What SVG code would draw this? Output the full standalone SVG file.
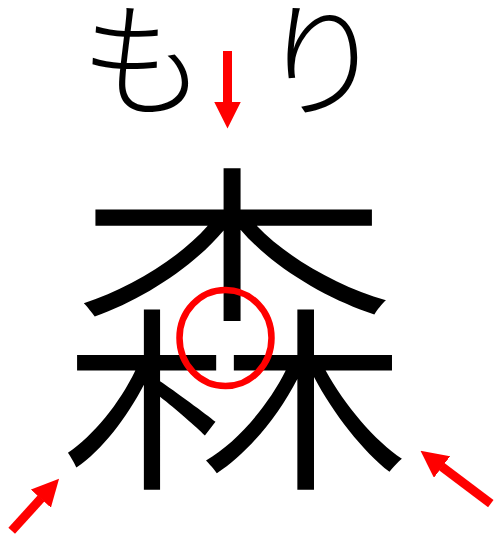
<svg xmlns="http://www.w3.org/2000/svg" width="495" height="539" viewBox="0 0 495 539">
  <style>
    .jp { font-family: "Noto Sans CJK JP", "Noto Sans CJK SC", sans-serif; fill: #000; font-weight: 300; }
    .arrow { stroke: #FF0000; stroke-width: 9; fill: none; }
    .mark { fill: none; stroke: #FF0000; stroke-width: 6.5; }
  </style>
  <defs>
    <marker id="head" markerUnits="strokeWidth" markerWidth="3" markerHeight="3" viewBox="0 0 3 3" refX="0.05" refY="1.5" orient="auto">
      <path d="M0,0 L3,1.5 L0,3 z" fill="#FF0000"/>
    </marker>
  </defs>
  <rect width="495" height="539" fill="#FFFFFF"/>
  <g id="reading">
    <text class="jp" font-size="126" text-anchor="middle"><tspan x="143" y="107">も</tspan><tspan x="322" y="107">り</tspan></text>
  </g>
  <g id="kanji">
    <text class="jp" x="233.5" y="463" font-size="353" text-anchor="middle">森</text>
  </g>
  <g id="highlight">
    <ellipse class="mark" cx="225.5" cy="338" rx="46" ry="48"/>
  </g>
  <g id="arrows">
    <line class="arrow" x1="227.5" y1="51" x2="227.5" y2="102" marker-end="url(#head)"/>
    <line class="arrow" x1="11.7" y1="530.8" x2="41.2" y2="498.3" marker-end="url(#head)"/>
    <line class="arrow" x1="490.8" y1="503.7" x2="441.7" y2="466.7" marker-end="url(#head)"/>
  </g>
</svg>
